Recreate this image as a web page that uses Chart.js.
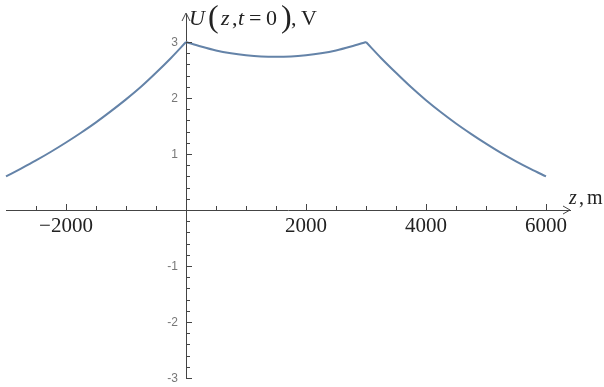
<!DOCTYPE html>
<html><head><meta charset="utf-8">
<script src="https://cdn.jsdelivr.net/npm/chart.js@4/dist/chart.umd.min.js"></script>
<style>html,body{margin:0;padding:0;background:#fff}#wrap{width:604px;height:387px;position:relative}</style>
</head><body><div id="wrap"><canvas id="c" width="604" height="387"></canvas></div>
<script>
// Data
const zValues = [-3000,-2750,-2500,-2250,-2000,-1750,-1500,-1250,-1000,-750,-500,-250,0,
  250,500,750,1000,1250,1500,1750,2000,2250,2500,2750,3000,
  3250,3500,3750,4000,4250,4500,4750,5000,5250,5500,5750,6000];
const uValues = [0.60,0.74,0.885,1.04,1.205,1.38,1.565,1.765,1.975,2.20,2.45,2.715,3.00,
  2.92,2.85,2.80,2.765,2.742,2.735,2.742,2.765,2.80,2.85,2.92,3.00,
  2.715,2.45,2.195,1.96,1.745,1.545,1.36,1.185,1.02,0.87,0.73,0.60];
const breakpoints = [0, 3000];          // z where the curve has sharp corners
const xTickLabels = [-2000, 2000, 4000, 6000];
const yTickLabels = [-3, -2, -1, 1, 2, 3];
const xMinorStep = 500, yMinorStep = 0.2;

const allPts = zValues.map((z, i) => ({x: z, y: uValues[i]}));
const pieces = [
  allPts.filter(p => p.x <= breakpoints[0]),
  allPts.filter(p => p.x >= breakpoints[0] && p.x <= breakpoints[1]),
  allPts.filter(p => p.x >= breakpoints[1])
];

const decor = {
  id: 'decor',
  afterDraw(chart) {
    const ctx = chart.ctx;
    const xs = chart.scales.x, ys = chart.scales.y;
    const x0 = xs.getPixelForValue(0), y0 = ys.getPixelForValue(0);
    ctx.save();
    ctx.strokeStyle = '#444';
    ctx.lineWidth = 1;
    // x ticks (pointing up)
    for (let k = -5; k <= 12; k++) {
      if (k === 0) continue;
      const v = k * xMinorStep;
      const px = Math.round(xs.getPixelForValue(v)) + 0.5;
      const major = (k % 4 === 0);
      ctx.beginPath(); ctx.moveTo(px, y0); ctx.lineTo(px, y0 - (major ? 6 : 4)); ctx.stroke();
    }
    // y ticks (pointing right)
    for (let k = -15; k <= 15; k++) {
      if (k === 0) continue;
      const v = k * yMinorStep;
      const py = Math.round(ys.getPixelForValue(v)) + 0.5;
      const major = (k % 5 === 0);
      ctx.beginPath(); ctx.moveTo(x0, py); ctx.lineTo(x0 + (major ? 6 : 4), py); ctx.stroke();
    }
    // x labels
    ctx.fillStyle = '#222';
    ctx.font = '21px "Liberation Serif", "DejaVu Serif", serif';
    ctx.textAlign = 'center';
    ctx.textBaseline = 'alphabetic';
    xTickLabels.forEach(v => {
      const lab = v < 0 ? '\u2212' + Math.abs(v) : String(v);
      ctx.fillText(lab, xs.getPixelForValue(v), y0 + 22);
    });
    // y labels
    ctx.fillStyle = '#777';
    ctx.font = '12px "Liberation Sans", Arial, sans-serif';
    ctx.textAlign = 'right';
    ctx.textBaseline = 'middle';
    yTickLabels.forEach(v => {
      ctx.fillText(String(v), x0 - 8, ys.getPixelForValue(v) + 1);
    });
    // arrowheads
    const xr = xs.right, yt = ys.top;
    ctx.beginPath();
    ctx.moveTo(xr - 7, y0 - 4); ctx.lineTo(xr, y0); ctx.lineTo(xr - 7, y0 + 4);
    ctx.moveTo(x0 - 4, yt + 7); ctx.lineTo(x0, yt - 1); ctx.lineTo(x0 + 4, yt + 7);
    ctx.stroke();
    // axis titles
    ctx.fillStyle = '#222';
    ctx.textAlign = 'left';
    ctx.textBaseline = 'alphabetic';
    const seg = (txt, x, y, size, italic) => {
      ctx.font = (italic ? 'italic ' : '') + size + 'px "Liberation Serif", "DejaVu Serif", serif';
      ctx.fillText(txt, x, y);
    };
    seg('U', 189, 25, 22, true);
    seg('(', 208, 27, 32, false);
    seg('z', 221, 25, 22, true);
    seg(',', 232, 25, 22, false);
    seg('t', 238, 25, 22, true);
    seg('=', 249, 25, 22, false);
    seg('0', 266, 25, 22, false);
    seg(')', 281, 27, 32, false);
    seg(',', 291, 25, 22, false);
    seg('V', 301, 25, 22, false);
    seg('z', 569, 204, 20, true);
    seg(',', 579, 204, 20, false);
    seg('m', 587, 204, 20, false);
    ctx.restore();
  }
};

const lineColor = '#6483a8';
new Chart(document.getElementById('c'), {
  type: 'scatter',
  data: {
    datasets: pieces.map(p => ({
      data: p,
      showLine: true,
      borderColor: lineColor,
      backgroundColor: lineColor,
      borderWidth: 2,
      pointRadius: 0,
      cubicInterpolationMode: 'monotone',
      clip: false
    }))
  },
  options: {
    responsive: false,
    animation: false,
    devicePixelRatio: 1,
    layout: {padding: {left: 6, right: 34, top: 14, bottom: 9}},
    plugins: {legend: {display: false}, tooltip: {enabled: false}},
    scales: {
      x: {
        type: 'linear',
        min: -3000, max: 6400,
        position: {y: 0},
        afterFit(s) { s.height = 0; },
        border: {display: true, color: '#444', width: 1},
        grid: {display: false},
        ticks: {display: false}
      },
      y: {
        type: 'linear',
        min: -3, max: 3.5,
        position: {x: 0},
        afterFit(s) { s.width = 0; },
        border: {display: true, color: '#444', width: 1},
        grid: {display: false},
        ticks: {display: false}
      }
    }
  },
  plugins: [decor]
});
</script>
</body></html>
